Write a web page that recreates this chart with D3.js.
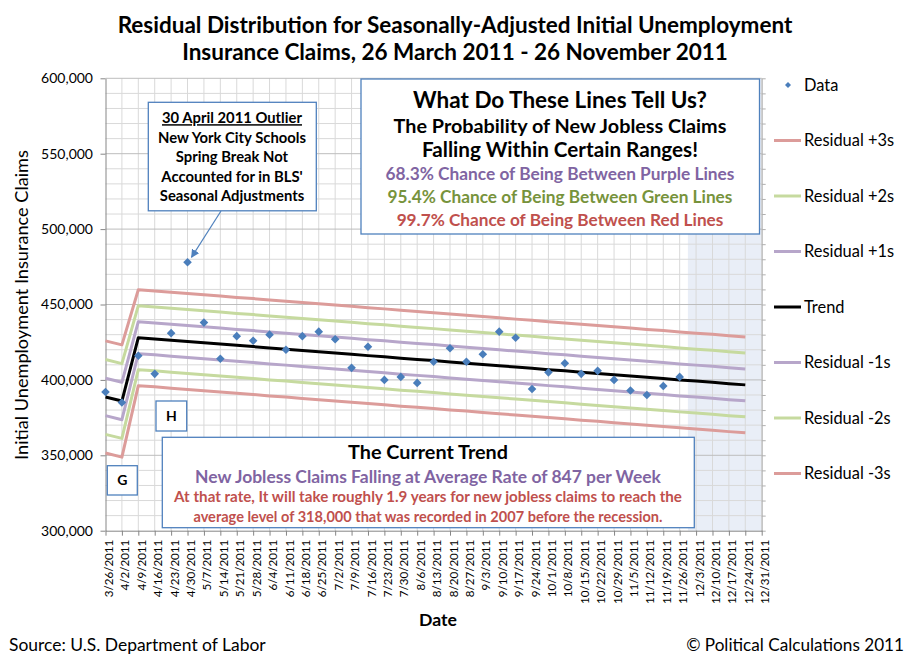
<!DOCTYPE html>
<html><head><meta charset="utf-8">
<script src="https://cdn.jsdelivr.net/npm/d3@7"></script>
<style>body{margin:0;background:#fff}svg{display:block;font-family:Lato,"Open Sans",sans-serif}</style>
</head><body>
<svg id="c" width="911" height="662"></svg>
<script>
// ---------------- DATA ----------------
const weeks = ["3/26/2011","4/2/2011","4/9/2011","4/16/2011","4/23/2011","4/30/2011","5/7/2011","5/14/2011","5/21/2011","5/28/2011","6/4/2011","6/11/2011","6/18/2011","6/25/2011","7/2/2011","7/9/2011","7/16/2011","7/23/2011","7/30/2011","8/6/2011","8/13/2011","8/20/2011","8/27/2011","9/3/2011","9/10/2011","9/17/2011","9/24/2011","10/1/2011","10/8/2011","10/15/2011","10/22/2011","10/29/2011","11/5/2011","11/12/2011","11/19/2011","11/26/2011","12/3/2011","12/10/2011","12/17/2011","12/24/2011","12/31/2011"];
// weekly seasonally adjusted initial claims (3/26 .. 11/26)
const claims = [392000,385000,416000,404000,431000,478000,438000,414000,429000,426000,430000,420000,429000,432000,427000,408000,422000,400000,402000,398000,412000,421000,412000,417000,432000,428000,394000,405000,411000,404000,406000,400000,393000,390000,396000,402000];
// trend and residual bands (3/26 .. 12/24)
const trend = [388700,386000,428000,427200,426300,425500,424600,423800,422900,422100,421200,420400,419500,418700,417800,417000,416100,415300,414400,413600,412800,411900,411100,410200,409400,408500,407700,406800,406000,405100,404300,403400,402600,401700,400900,400000,399200,398400,397500,396700];
const plus1s = [401100,398400,438600,437800,436900,436100,435200,434400,433500,432700,431800,431000,430100,429300,428400,427600,426700,425900,425000,424200,423400,422500,421700,420800,420000,419100,418300,417400,416600,415700,414900,414000,413200,412300,411500,410600,409800,409000,408100,407300];
const plus2s = [413500,410800,449200,448400,447500,446700,445800,445000,444100,443300,442400,441600,440700,439900,439000,438200,437300,436500,435600,434800,434000,433100,432300,431400,430600,429700,428900,428000,427200,426300,425500,424600,423800,422900,422100,421200,420400,419600,418700,417900];
const plus3s = [425900,423200,459800,459000,458100,457300,456400,455600,454700,453900,453000,452200,451300,450500,449600,448800,447900,447100,446200,445400,444600,443700,442900,442000,441200,440300,439500,438600,437800,436900,436100,435200,434400,433500,432700,431800,431000,430200,429300,428500];
const minus1s = [376300,373600,417400,416600,415700,414900,414000,413200,412300,411500,410600,409800,408900,408100,407200,406400,405500,404700,403800,403000,402200,401300,400500,399600,398800,397900,397100,396200,395400,394500,393700,392800,392000,391100,390300,389400,388600,387800,386900,386100];
const minus2s = [363900,361200,406800,406000,405100,404300,403400,402600,401700,400900,400000,399200,398300,397500,396600,395800,394900,394100,393200,392400,391600,390700,389900,389000,388200,387300,386500,385600,384800,383900,383100,382200,381400,380500,379700,378800,378000,377200,376300,375500];
const minus3s = [351500,348800,396200,395400,394500,393700,392800,392000,391100,390300,389400,388600,387700,386900,386000,385200,384300,383500,382600,381800,381000,380100,379300,378400,377600,376700,375900,375000,374200,373300,372500,371600,370800,369900,369100,368200,367400,366600,365700,364900];
const yTicks = [300000,350000,400000,450000,500000,550000,600000];
const projectionStart = "12/3/2011";

const seriesNames = ["Data","Residual +3s","Residual +2s","Residual +1s","Trend","Residual -1s","Residual -2s","Residual -3s"];
const bandSeries = [
  {name:"Residual +3s", values:plus3s, color:"#dc9c9a", w:3},
  {name:"Residual +2s", values:plus2s, color:"#c6da9f", w:3},
  {name:"Residual +1s", values:plus1s, color:"#b7a6ca", w:3},
  {name:"Residual -1s", values:minus1s, color:"#b7a6ca", w:3},
  {name:"Residual -2s", values:minus2s, color:"#c6da9f", w:3},
  {name:"Residual -3s", values:minus3s, color:"#dc9c9a", w:3},
  {name:"Trend", values:trend, color:"#000000", w:3}
];

// ---------------- CHART ----------------
const svg = d3.select("#c");
const L = 105.5, R = 761.7, T = 78.3, B = 530.7;
const x = d3.scalePoint().domain(weeks).range([L, R]).padding(0);
const y = d3.scaleLinear().domain([300000, 600000]).range([B, T]);
const step = x.step();

function fit(t, w){ const l = t.node().getComputedTextLength(); const fs = parseFloat(t.attr("font-size")); t.attr("font-size", (fs*w/l).toFixed(2)); return t; }

// projection shading
svg.append("rect").attr("x", x(projectionStart) - step/2).attr("y", T)
  .attr("width", R - (x(projectionStart) - step/2)).attr("height", B - T).attr("fill", "#e9eef7");

// gridlines
const g = svg.append("g");
g.selectAll(".vg").data(weeks.slice(1)).join("line")
  .attr("x1", d => x(d)).attr("x2", d => x(d)).attr("y1", T).attr("y2", B)
  .attr("stroke", "#d9d9d9").attr("stroke-width", 1);
const minor = d3.range(310000, 600001, 10000);
g.selectAll(".hg").data(minor).join("line")
  .attr("x1", L).attr("x2", R).attr("y1", d => y(d)).attr("y2", d => y(d))
  .attr("stroke", d => d % 50000 === 0 ? "#bdbdbd" : "#d9d9d9").attr("stroke-width", 1);

// left axis
const ya = svg.append("g").attr("transform", `translate(${L},0)`)
  .call(d3.axisLeft(y).tickValues(yTicks).tickFormat(d3.format(",")).tickSize(5).tickSizeOuter(0));
ya.select(".domain").attr("stroke", "#868686");
ya.selectAll(".tick line").attr("stroke", "#868686");
ya.selectAll(".tick text").attr("font-size", 14).attr("fill", "#000").attr("font-family", "Lato").attr("dx", "-4.5");

// right axis (unlabelled, minor ticks)
const ra = svg.append("g").attr("transform", `translate(${R},0)`)
  .call(d3.axisRight(y).tickValues(d3.range(300000, 600001, 10000)).tickFormat("").tickSize(4).tickSizeOuter(0));
ra.select(".domain").attr("stroke", "#b0b0b0");
ra.selectAll(".tick line").attr("stroke", "#b0b0b0");

// bottom axis
const xa = svg.append("g").attr("transform", `translate(0,${B})`)
  .call(d3.axisBottom(x).tickSize(5).tickSizeOuter(0));
xa.select(".domain").attr("stroke", "#868686");
xa.selectAll(".tick line").attr("stroke", "#868686");
xa.selectAll(".tick text").attr("font-size", 11.6).attr("fill", "#000").attr("font-family", "Lato")
  .attr("text-anchor", "end").attr("transform", "translate(3,0) rotate(-90)")
  .attr("x", -9).attr("y", 0).attr("dy", "0.35em");

// lines
const line = d3.line().x((d, i) => x(weeks[i])).y(d => y(d));
svg.selectAll(".band").data(bandSeries).join("path")
  .attr("d", d => line(d.values)).attr("fill", "none")
  .attr("stroke", d => d.color).attr("stroke-width", d => d.w).attr("stroke-linejoin", "round");

// data markers
const diamond = "M0,-4.3L4.3,0L0,4.3L-4.3,0Z";
svg.selectAll(".pt").data(claims).join("path")
  .attr("d", diamond).attr("fill", "#4a7ebb")
  .attr("transform", (d, i) => `translate(${x(weeks[i])},${y(d)})`);

// legend
const lg = svg.append("g");
seriesNames.forEach((n, i) => {
  const yy = 85 + i * 55.5;
  if (n === "Data") {
    lg.append("path").attr("d", "M0,-3L3,0L0,3L-3,0Z").attr("fill", "#4a7ebb").attr("transform", `translate(788,${yy})`);
  } else {
    const s = bandSeries.find(b => b.name === n);
    lg.append("line").attr("x1", 774).attr("x2", 801).attr("y1", yy).attr("y2", yy)
      .attr("stroke", s.color).attr("stroke-width", 3);
  }
  lg.append("text").attr("x", 804).attr("y", yy).attr("dy", "0.35em").attr("font-size", 16.4).text(n);
});

// title
const t1 = svg.append("text").attr("x", 455).attr("y", 25).attr("dy", "0.35em").attr("text-anchor", "middle")
  .attr("font-weight", "bold").attr("font-size", 19).text("Residual Distribution for Seasonally-Adjusted Initial Unemployment");
fit(t1, 675);
const t2 = svg.append("text").attr("x", 455).attr("y", 52).attr("dy", "0.35em").attr("text-anchor", "middle")
  .attr("font-weight", "bold").attr("font-size", +t1.attr("font-size")).text("Insurance Claims, 26 March 2011 - 26 November 2011");

// axis titles
fit(svg.append("text").attr("transform", "translate(22,305) rotate(-90)").attr("text-anchor", "middle").attr("dy", "0.35em")
  .attr("font-size", 15).text("Initial Unemployment Insurance Claims"), 310);
fit(svg.append("text").attr("x", 438).attr("y", 620).attr("text-anchor", "middle").attr("dy", "0.35em")
  .attr("font-weight", "bold").attr("font-size", 15).text("Date"), 38);
fit(svg.append("text").attr("x", 9).attr("y", 645).attr("dy", "0.35em").attr("font-size", 15).text("Source: U.S. Department of Labor"), 257);
fit(svg.append("text").attr("x", 904).attr("y", 645).attr("dy", "0.35em").attr("text-anchor", "end").attr("font-size", 15).text("\u00a9 Political Calculations 2011"), 218);

// boxes
function box(x0, y0, w, h) {
  svg.append("rect").attr("x", x0).attr("y", y0).attr("width", w).attr("height", h)
    .attr("fill", "#fff").attr("stroke", "#4f81bd").attr("stroke-width", 1.3);
}
function txt(xc, yc, s, size, color, extra) {
  const t = svg.append("text").attr("x", xc).attr("y", yc).attr("dy", "0.35em").attr("text-anchor", "middle")
    .attr("font-weight", "bold").attr("font-size", size).attr("fill", color || "#000").text(s);
  if (extra) extra(t);
  return t;
}

// outlier annotation
svg.append("defs").append("marker").attr("id", "ah").attr("viewBox", "0 0 10 10").attr("refX", 9).attr("refY", 5)
  .attr("markerWidth", 7).attr("markerHeight", 7).attr("orient", "auto")
  .append("path").attr("d", "M0,0L10,5L0,10Z").attr("fill", "#4f81bd");
svg.append("line").attr("x1", 221).attr("y1", 211).attr("x2", x("4/30/2011") + 4).attr("y2", y(478000) - 5)
  .attr("stroke", "#4f81bd").attr("stroke-width", 1.2).attr("marker-end", "url(#ah)");
box(148.3, 102.3, 168, 108.5);
const oLines = ["30 April 2011 Outlier","New York City Schools","Spring Break Not","Accounted for in BLS'","Seasonal Adjustments"];
const oY = [118, 138, 157, 177, 196];
const oTexts = oLines.map((s, i) => txt(232, oY[i], s, 13.5, "#000", i === 0 ? t => t.attr("text-decoration", "underline") : null));
fit(oTexts[1], 148);
const oSize = oTexts[1].attr("font-size");
oTexts.forEach(t => t.attr("font-size", oSize));

// explanation box
box(361, 79, 398.5, 155);
fit(txt(560, 100, "What Do These Lines Tell Us?", 18), 294);
fit(txt(560, 126, "The Probability of New Jobless Claims", 16), 333);
fit(txt(560, 150, "Falling Within Certain Ranges!", 16), 276);
fit(txt(560, 174, "68.3% Chance of Being Between Purple Lines", 15, "#8064a2"), 349);
fit(txt(560, 197, "95.4% Chance of Being Between Green Lines", 15, "#77933c"), 345);
fit(txt(560, 220, "99.7% Chance of Being Between Red Lines", 15, "#c0504d"), 327);

// trend box
box(162.3, 437.3, 532, 90.4);
fit(txt(428, 452, "The Current Trend", 17), 160);
fit(txt(428, 477, "New Jobless Claims Falling at Average Rate of 847 per Week", 15, "#8064a2"), 466);
fit(txt(428, 497, "At that rate, It will take roughly 1.9 years for new jobless claims to reach the", 13, "#c0504d"), 508);
fit(txt(428, 517, "average level of 318,000 that was recorded in 2007 before the recession.", 13, "#c0504d"), 469);

// segment labels
box(156, 401, 30.7, 30);
txt(171.3, 416, "H", 14);
box(107.3, 465.7, 30, 29.3);
txt(122.3, 480.5, "G", 14);
</script>
</body></html>
